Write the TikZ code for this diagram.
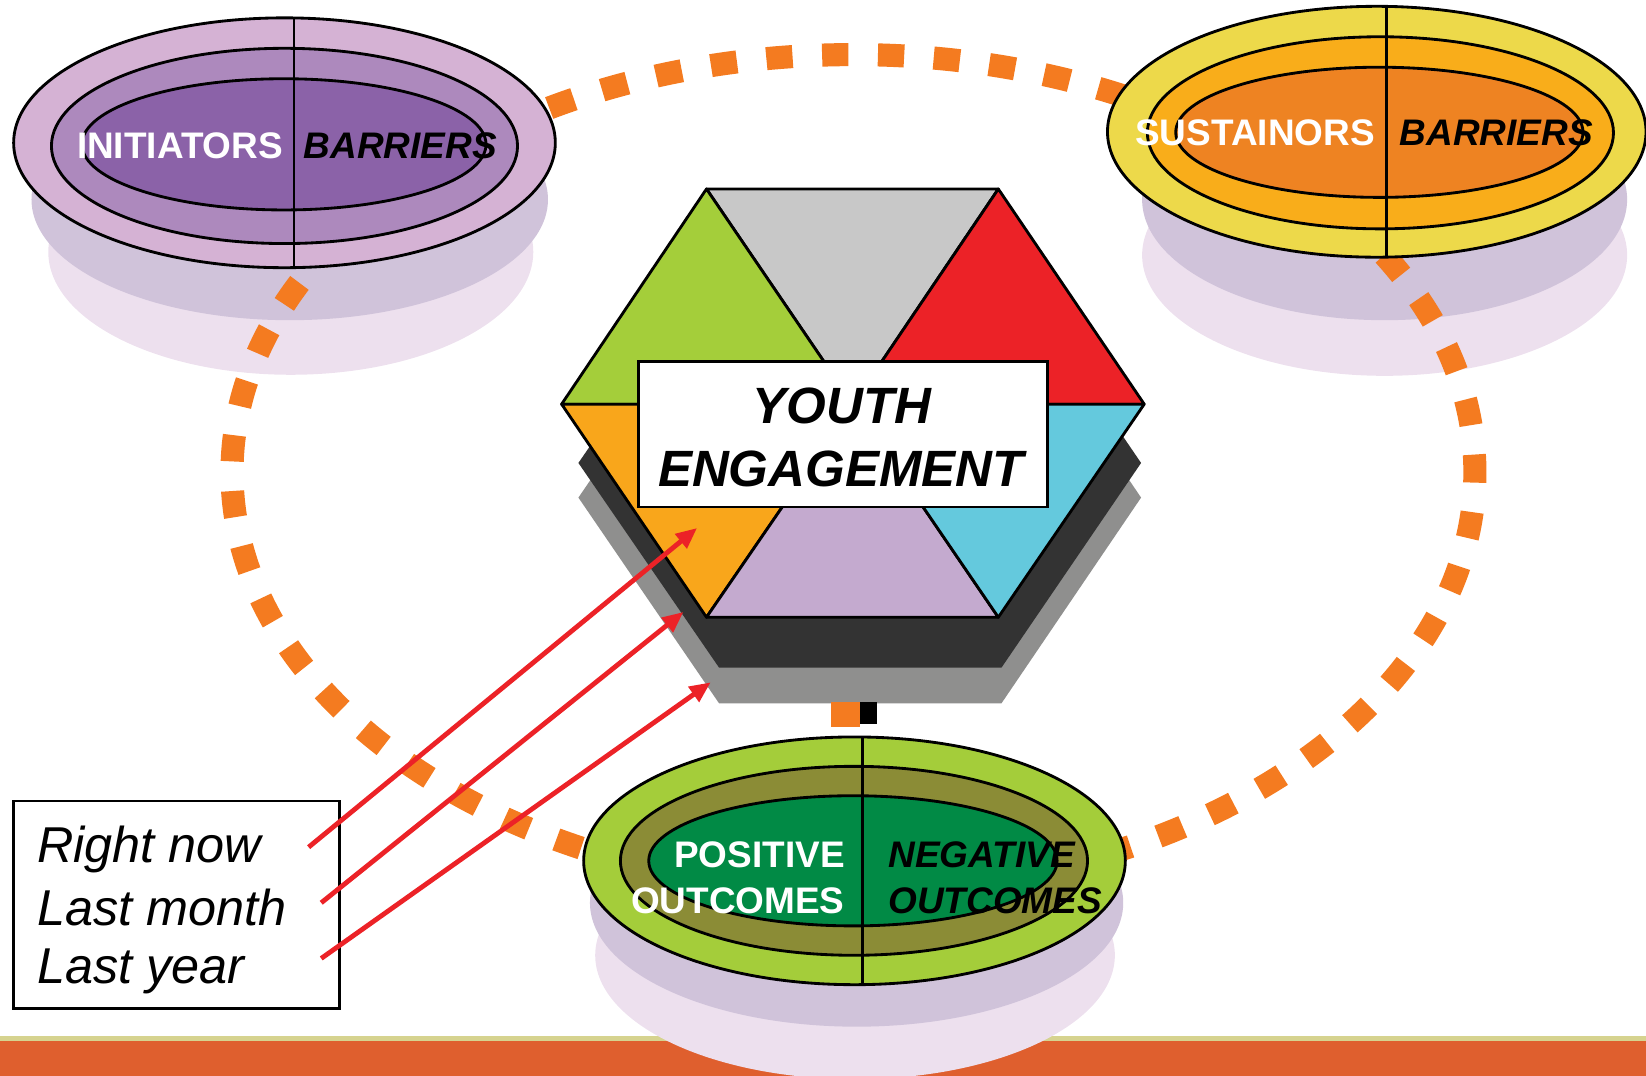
\documentclass[tikz,border=0pt]{standalone}
\usepackage{fontspec}
\setmainfont{Liberation Sans}
\usetikzlibrary{arrows.meta}
\definecolor{dashor}{HTML}{F47B20}
\definecolor{baror}{HTML}{DF5F2E}
\definecolor{barln}{HTML}{D6D38F}
\definecolor{shdark}{HTML}{D0C3DA}
\definecolor{shlight}{HTML}{EDE0EE}
\definecolor{puA}{HTML}{D5B2D4}
\definecolor{puB}{HTML}{AD89BD}
\definecolor{puC}{HTML}{8B62A8}
\definecolor{yeA}{HTML}{EDD94A}
\definecolor{yeB}{HTML}{F9AD1A}
\definecolor{yeC}{HTML}{EE8322}
\definecolor{grA}{HTML}{A4CD3A}
\definecolor{grB}{HTML}{8B8C36}
\definecolor{grC}{HTML}{018A45}
\definecolor{hxGray}{HTML}{C8C8C8}
\definecolor{hxGreen}{HTML}{A4CE3A}
\definecolor{hxRed}{HTML}{EC2227}
\definecolor{hxOrange}{HTML}{F9A61B}
\definecolor{hxLav}{HTML}{C4AACF}
\definecolor{hxCyan}{HTML}{64C9DD}
\definecolor{hxDark}{HTML}{333333}
\definecolor{hxShade}{HTML}{8F8F8E}
\definecolor{arrred}{HTML}{EC2227}
\begin{document}
\begin{tikzpicture}[x=0.5pt,y=-0.5pt,
  edge/.style={draw=black, line width=1.35pt},
  ring/.style={edge, fill=#1},
  lblw/.style={font=\fontsize{17.6}{20}\selectfont\bfseries, text=white, inner sep=0pt},
  lblk/.style={font=\fontsize{17.6}{20}\selectfont\bfseries\itshape, text=black, inner sep=0pt},
  ytext/.style={font=\fontsize{24.3}{28}\selectfont\bfseries\itshape, inner sep=0pt, anchor=base},
  ttext/.style={font=\fontsize{24}{28}\selectfont\itshape, inner sep=0pt, anchor=base west},
  redarrow/.style={draw=arrred, line width=2.3pt, -{Triangle[length=10pt,width=8.5pt]}},
  loopline/.style={draw=dashor, line width=11pt, dash pattern=on 12.5pt off 14.1pt, dash phase=4pt}]
\useasboundingbox (0,0) rectangle (1568,1025);
% bottom bar
\fill[barln] (0,987) rectangle (1568,992);
\fill[baror] (0,992) rectangle (1568,1025);
% shadows of ovals
\fill[shlight] (277,240) ellipse [x radius=115.5pt, y radius=58.5pt];
\fill[shdark] (276,190) ellipse [x radius=123pt, y radius=57.5pt];
\fill[shlight] (1319,243) ellipse [x radius=115.5pt, y radius=57.5pt];
\fill[shdark] (1319,190) ellipse [x radius=115.5pt, y radius=57.5pt];
\fill[shlight] (814.5,910) ellipse [x radius=123.75pt, y radius=59pt];
\fill[shdark] (816,860) ellipse [x radius=127pt, y radius=59pt];
% dashed loop
\draw[loopline] (813,450) ellipse [x radius=296pt, y radius=199pt];
% hexagon shadows
\coordinate (gL) at (551,474); \coordinate (gBL) at (685,670); \coordinate (gBR) at (954,670);
\coordinate (gR) at (1087,474); \coordinate (gTR) at (954,278); \coordinate (gTL) at (685,278);
\fill[hxShade] (gL) -- (gBL) -- (gBR) -- (gR) -- (gTR) -- (gTL) -- cycle;
\coordinate (dL) at (551,441); \coordinate (dBL) at (685,636); \coordinate (dBR) at (954,636);
\coordinate (dR) at (1087,441); \coordinate (dTR) at (954,246); \coordinate (dTL) at (685,246);
\fill[hxDark] (dL) -- (dBL) -- (dBR) -- (dR) -- (dTR) -- (dTL) -- cycle;
% small marks below hexagon
\fill[black] (819,669) rectangle (835,690);
\fill[dashor] (792,669) rectangle (819,693);
% hexagon
\coordinate (hTL) at (673,180); \coordinate (hTR) at (951,180); \coordinate (hR) at (1090,385);
\coordinate (hBR) at (951,588); \coordinate (hBL) at (673,588); \coordinate (hL) at (535,385);
\coordinate (hC) at (812.5,385);
\filldraw[edge, fill=hxGray, line join=round] (hTL) -- (hTR) -- (hC) -- cycle;
\filldraw[edge, fill=hxGreen, line join=round] (hTL) -- (hC) -- (hL) -- cycle;
\filldraw[edge, fill=hxRed, line join=round] (hTR) -- (hR) -- (hC) -- cycle;
\filldraw[edge, fill=hxOrange, line join=round] (hL) -- (hC) -- (hBL) -- cycle;
\filldraw[edge, fill=hxLav, line join=round] (hC) -- (hBR) -- (hBL) -- cycle;
\filldraw[edge, fill=hxCyan, line join=round] (hC) -- (hR) -- (hBR) -- cycle;
\node[draw=black, line width=1.35pt, fill=white, minimum width=195pt, minimum height=69.5pt, inner sep=0pt] (ybox) at (803,413.5) {};
\node[ytext] (youth) at (802,403) {YOUTH};
\node[ytext] (engage) at (801,463) {ENGAGEMENT};
% top-left oval
\filldraw[ring=puA] (271,136) ellipse [x radius=129pt, y radius=59.5pt];
\filldraw[ring=puB] (271,139) ellipse [x radius=111pt, y radius=46.5pt];
\filldraw[ring=puC] (270.5,137.5) ellipse [x radius=96.25pt, y radius=31.25pt];
\begin{scope}
\clip (271,136) ellipse [x radius=129pt, y radius=59.5pt];
\draw[edge] (280,0) -- (280,300);
\end{scope}
\node[lblw, anchor=base east] (init) at (270,151) {INITIATORS};
\node[lblk, anchor=base west] (barl) at (289,151) {BARRIERS};
% top-right oval
\filldraw[ring=yeA] (1311.5,125.5) ellipse [x radius=128.25pt, y radius=59.75pt];
\filldraw[ring=yeB] (1315,126.5) ellipse [x radius=111pt, y radius=45.75pt];
\filldraw[ring=yeC] (1314,126) ellipse [x radius=97pt, y radius=31pt];
\begin{scope}
\clip (1311.5,125.5) ellipse [x radius=128.25pt, y radius=59.75pt];
\draw[edge] (1321,0) -- (1321,300);
\end{scope}
\node[lblw, anchor=base east] (sust) at (1310,139) {SUSTAINORS};
\node[lblk, anchor=base west] (barr) at (1333,139) {BARRIERS};
% bottom oval
\filldraw[ring=grA] (814,820) ellipse [x radius=129pt, y radius=59pt];
\filldraw[ring=grB] (813.5,820) ellipse [x radius=111.25pt, y radius=45pt];
\filldraw[ring=grC] (812.5,820) ellipse [x radius=97.25pt, y radius=31pt];
\begin{scope}
\clip (814,820) ellipse [x radius=129pt, y radius=59pt];
\draw[edge] (822,690) -- (822,950);
\end{scope}
\node[lblw, anchor=base east] (pos1) at (805,826) {POSITIVE};
\node[lblw, anchor=base east] (pos2) at (805,870) {OUTCOMES};
\node[lblk, anchor=base west] (neg1) at (846,826) {NEGATIVE};
\node[lblk, anchor=base west] (neg2) at (846,870) {OUTCOMES};
% time box
\node[draw=black, line width=1.4pt, fill=white, minimum width=155pt, minimum height=99pt, inner sep=0pt] (tbox) at (168,862) {};
\node[ttext] (t1) at (35,822) {Right now};
\node[ttext] (t2) at (35,882) {Last month};
\node[ttext] (t3) at (35,937) {Last year};
% arrows
\coordinate (a1s) at (294,807); \coordinate (a1e) at (664,503);
\coordinate (a2s) at (306,860); \coordinate (a2e) at (651,583);
\coordinate (a3s) at (306,913); \coordinate (a3e) at (677,650);
\draw[redarrow] (a1s) -- (a1e);
\draw[redarrow] (a2s) -- (a2e);
\draw[redarrow] (a3s) -- (a3e);
\end{tikzpicture}
\end{document}
